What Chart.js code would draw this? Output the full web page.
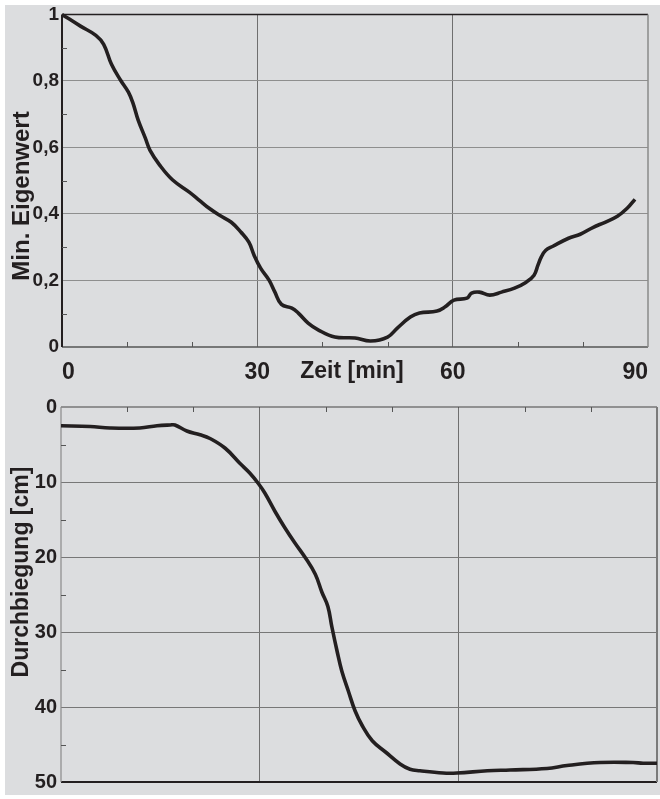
<!DOCTYPE html>
<html>
<head>
<meta charset="utf-8">
<script src="https://cdn.jsdelivr.net/npm/chart.js@4"></script>
<style>
  body { margin: 0; background: #fff; }
  #sheet { position: absolute; left: 5px; top: 5px; width: 655px; height: 790px; background: #dcdddf; }
  .box { position: absolute; left: 0; width: 660px; }
  #topBox { top: 0; height: 395px; }
  #bottomBox { top: 391px; height: 408px; }
</style>
</head>
<body>
<div id="sheet"></div>
<div class="box" id="topBox"><canvas id="eigen"></canvas></div>
<div class="box" id="bottomBox"><canvas id="sag"></canvas></div>
<script>
// Minimal eigenvalue over time
const eigenTime = [0, 2.9, 5.2, 6.4, 7.6, 9.0, 10.2, 10.9, 11.7, 12.8, 13.5, 15.0, 17.0, 19.6, 21.1, 22.6, 24.2, 26.0, 27.5, 28.7, 29.5, 30.5, 31.8, 32.7, 33.7, 35.3, 36.3, 37.8, 39.4, 41.9, 45.0, 47.4, 50.0, 51.5, 53.5, 54.9, 57.6, 58.8, 60.2, 62.2, 62.9, 64.1, 65.7, 67.5, 69.5, 71.3, 72.5, 73.1, 73.6, 74.3, 75.4, 77.8, 79.6, 81.6, 83.4, 85.3, 86.8, 88.0];
const eigenValue = [1.0, 0.964, 0.937, 0.91, 0.85, 0.802, 0.766, 0.733, 0.682, 0.628, 0.592, 0.547, 0.502, 0.465, 0.441, 0.417, 0.396, 0.375, 0.345, 0.315, 0.276, 0.237, 0.201, 0.165, 0.128, 0.117, 0.102, 0.072, 0.051, 0.030, 0.027, 0.018, 0.030, 0.057, 0.090, 0.102, 0.108, 0.120, 0.141, 0.147, 0.162, 0.165, 0.156, 0.165, 0.177, 0.195, 0.216, 0.246, 0.270, 0.291, 0.303, 0.327, 0.339, 0.360, 0.375, 0.393, 0.417, 0.444];

// Deflection over time
const sagTime = [0, 4.4, 7.4, 11.9, 14.5, 16.5, 17.2, 19.0, 21.0, 22.5, 24.8, 27.0, 28.5, 29.8, 30.8, 32.3, 33.8, 35.3, 36.9, 38.4, 39.4, 40.3, 40.9, 41.7, 42.4, 43.4, 44.4, 45.5, 47.0, 49.0, 51.2, 52.7, 54.2, 57.7, 59.8, 64.4, 67.8, 73.4, 76.4, 81.4, 86.4, 87.9, 90];
const sagValue = [2.5, 2.6, 2.8, 2.8, 2.5, 2.4, 2.4, 3.2, 3.7, 4.2, 5.5, 7.5, 8.8, 10.2, 11.5, 13.9, 16.1, 18.1, 20.1, 22.3, 24.7, 26.6, 29.3, 32.6, 35.2, 37.9, 40.5, 42.5, 44.5, 46.0, 47.6, 48.3, 48.5, 48.8, 48.8, 48.5, 48.4, 48.2, 47.8, 47.4, 47.4, 47.5, 47.5];

const timeMajor = [0, 30, 60, 90];
const timeMinor = [10, 20, 40, 50, 70, 80];
const eigenMinor = [0.1, 0.3, 0.5, 0.7, 0.9];
const sagMinor = [5, 15, 25, 35, 45];

const INK = "#231f20";
const FAMILY = "'Liberation Sans', Arial, Helvetica, sans-serif";

const getById = (id) => document.getElementById(id);
const zip = (xs, ys) => xs.map((x, i) => ({ x, y: ys[i] }));
const commaLabel = (v) => String(Math.round(v * 10) / 10).replace(".", ",");

// frame, inward minor ticks and free text labels
const decor = {
  id: "decor",
  beforeDatasetsDraw(chart, args, opts) {
    const { ctx, chartArea: a, scales } = chart;
    ctx.save();
    const side = (s, x1, y1, x2, y2) => {
      if (!s) return;
      ctx.strokeStyle = s[0];
      ctx.lineWidth = s[1];
      ctx.beginPath();
      ctx.moveTo(x1, y1);
      ctx.lineTo(x2, y2);
      ctx.stroke();
    };
    const f = opts.frame;
    side(f.top, a.left, a.top, a.right, a.top);
    side(f.bottom, a.left, a.bottom, a.right, a.bottom);
    side(f.left, a.left, a.top, a.left, a.bottom);
    side(f.right, a.right, a.top, a.right, a.bottom);

    ctx.strokeStyle = "#555";
    ctx.lineWidth = 1;
    ctx.beginPath();
    opts.minorX.values.forEach(v => {
      const px = Math.round(scales.x.getPixelForValue(v)) + 0.5;
      const y0 = opts.minorX.side === "top" ? a.top : a.bottom;
      const dir = opts.minorX.side === "top" ? 1 : -1;
      ctx.moveTo(px, y0);
      ctx.lineTo(px, y0 + dir * 5);
    });
    opts.minorY.forEach(v => {
      const py = Math.round(scales.y.getPixelForValue(v)) + 0.5;
      ctx.moveTo(a.left, py);
      ctx.lineTo(a.left + 5, py);
    });
    ctx.stroke();
    ctx.restore();
  },
  afterDraw(chart, args, opts) {
    const { ctx } = chart;
    ctx.save();
    ctx.fillStyle = INK;
    ctx.textAlign = "center";
    ctx.textBaseline = "middle";
    opts.notes.forEach(n => {
      ctx.save();
      ctx.font = n.font;
      ctx.translate(n.x, n.y);
      if (n.rotate) ctx.rotate(-Math.PI / 2);
      ctx.fillText(n.text, 0, 0);
      ctx.restore();
    });
    ctx.restore();
  }
};

const lineDataset = (data) => ({
  data,
  borderColor: INK,
  borderWidth: 3.6,
  pointRadius: 0,
  tension: 0.4,
  clip: 4,
});

const innerGrid = (keep, color) => ({
  drawTicks: false,
  color: (c) => keep.includes(c.tick.value) ? color : "rgba(0,0,0,0)",
  lineWidth: 1,
});

new Chart(getById("eigen"), {
  type: "line",
  data: { datasets: [lineDataset(zip(eigenTime, eigenValue))] },
  options: {
    responsive: true,
    maintainAspectRatio: false,
    animation: false,
    layout: { padding: { top: 14, right: 7, left: 0, bottom: 0 } },
    plugins: {
      legend: { display: false },
      tooltip: { enabled: false },
      decor: {
        frame: { top: [INK, 1.5], left: [INK, 2], bottom: ["#555", 1.5], right: ["#8a8a8a", 1.5] },
        minorX: { values: timeMinor, side: "bottom" },
        minorY: eigenMinor,
        notes: [
          { text: "Min. Eigenwert", x: 22, y: 196, rotate: true, font: `bold 24px ${FAMILY}` },
          { text: "Zeit [min]", x: 352, y: 372, font: `bold 23px ${FAMILY}` },
        ],
      },
    },
    scales: {
      x: {
        type: "linear",
        min: 0,
        max: 90,
        afterBuildTicks: (s) => { s.ticks = timeMajor.map(value => ({ value })); },
        afterFit: (s) => { s.height = 48; },
        border: { display: false },
        grid: innerGrid([30, 60], "#6f6f6f"),
        ticks: {
          align: "inner",
          padding: 12,
          color: INK,
          font: { family: FAMILY, size: 23, weight: "bold" },
          maxRotation: 0,
        },
      },
      y: {
        min: 0,
        max: 1,
        afterFit: (s) => { s.width = 62; },
        border: { display: false },
        grid: innerGrid([0.2, 0.4, 0.6, 0.8], "#8e8e8e"),
        ticks: {
          stepSize: 0.2,
          padding: 3,
          color: INK,
          font: { family: FAMILY, size: 19, weight: "bold" },
          callback: commaLabel,
        },
      },
    },
  },
  plugins: [decor],
});

new Chart(getById("sag"), {
  type: "line",
  data: { datasets: [lineDataset(zip(sagTime, sagValue))] },
  options: {
    responsive: true,
    maintainAspectRatio: false,
    animation: false,
    layout: { padding: { top: 12, right: 3, left: 0, bottom: 17 } },
    plugins: {
      legend: { display: false },
      tooltip: { enabled: false },
      decor: {
        frame: { top: ["#444", 1.2], left: ["#8a8a8a", 1.2], bottom: [INK, 2], right: ["#7a7a7a", 2] },
        minorX: { values: timeMinor, side: "top" },
        minorY: sagMinor,
        notes: [
          { text: "Durchbiegung [cm]", x: 22, y: 181, rotate: true, font: `bold 23px ${FAMILY}` },
        ],
      },
    },
    scales: {
      x: {
        type: "linear",
        min: 0,
        max: 90,
        afterBuildTicks: (s) => { s.ticks = timeMajor.map(value => ({ value })); },
        afterFit: (s) => { s.height = 0; },
        border: { display: false },
        grid: innerGrid([30, 60], "#6f6f6f"),
        ticks: { display: false },
      },
      y: {
        min: 0,
        max: 50,
        reverse: true,
        afterFit: (s) => { s.width = 61; },
        border: { display: false },
        grid: innerGrid([10, 20, 30, 40], "#777"),
        ticks: {
          stepSize: 10,
          padding: 4,
          color: INK,
          font: { family: FAMILY, size: 20, weight: "bold" },
        },
      },
    },
  },
  plugins: [decor],
});
</script>
</body>
</html>
